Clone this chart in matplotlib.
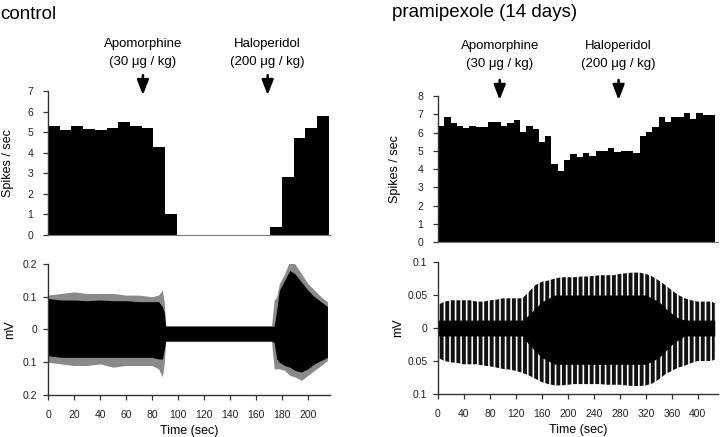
import matplotlib.pyplot as plt
import numpy as np

plt.rcParams['font.family'] = ['Liberation Sans', 'DejaVu Sans']
plt.rcParams['hatch.linewidth'] = 2.8

#Spike rate histograms (spikes / sec per bin)
ctrl_bin_sec = 9.0
ctrl_rate = [5.3, 5.1, 5.3, 5.15, 5.1, 5.2, 5.5, 5.3, 5.2, 4.3, 1.0,
             0, 0, 0, 0, 0, 0, 0, 0,
             0.4, 2.8, 4.7, 5.2, 5.8]

prami_bin_sec = 9.7
prami_rate = [6.35, 6.85, 6.5, 6.35, 6.25, 6.35, 6.3, 6.3, 6.55, 6.55,
              6.35, 6.5, 6.7, 6.05, 6.35, 6.2, 5.5, 5.8, 4.3, 3.9,
              4.5, 4.8, 4.65, 4.85, 4.7, 5.0, 5.0, 5.15, 4.95, 5.0,
              5.0, 4.9, 5.8, 6.05, 6.3, 6.85, 6.55, 6.85, 6.85, 7.05,
              6.75, 7.05, 6.95, 6.95]

#Injection times (sec)
ctrl_apo_t, ctrl_halo_t = 73, 169
prami_apo_t, prami_halo_t = 95, 278

#Control trace envelope (mV)
ctrl_t = [0, 10, 20, 30, 40, 50, 60, 70, 80, 85, 88, 89.5, 90.5, 100, 120, 140,
          160, 172, 174, 176, 178, 182, 186, 190, 195, 200, 205, 210, 215]
ctrl_top = [0.095, 0.09, 0.09, 0.088, 0.09, 0.088, 0.088, 0.085, 0.085, 0.085,
            0.07, 0.05, 0.01, 0.01, 0.01, 0.01, 0.01, 0.01, 0.01, 0.06, 0.12,
            0.15, 0.18, 0.17, 0.145, 0.12, 0.10, 0.085, 0.07]
ctrl_bot = [-0.08, -0.085, -0.085, -0.085, -0.085, -0.085, -0.085, -0.085,
            -0.085, -0.09, -0.09, -0.06, -0.035, -0.035, -0.035, -0.035, -0.035,
            -0.035, -0.04, -0.09, -0.1, -0.11, -0.115, -0.125, -0.13, -0.12,
            -0.105, -0.095, -0.085]
ctrl_top_max = [0.105, 0.11, 0.115, 0.11, 0.11, 0.11, 0.105, 0.105, 0.1, 0.105,
                0.12, 0.08, 0.012, 0.012, 0.012, 0.012, 0.012, 0.012, 0.09, 0.1,
                0.14, 0.17, 0.21, 0.2, 0.17, 0.14, 0.12, 0.1, 0.085]
ctrl_bot_min = [-0.1, -0.105, -0.11, -0.11, -0.105, -0.115, -0.11, -0.11, -0.11,
                -0.12, -0.145, -0.1, -0.037, -0.037, -0.037, -0.037, -0.037,
                -0.037, -0.12, -0.12, -0.12, -0.125, -0.14, -0.145, -0.155,
                -0.14, -0.125, -0.11, -0.095]

#Pramipexole trace envelope (mV): outer spikes and dense core
prami_t = [0, 10, 20, 30, 40, 50, 60, 70, 80, 90, 100, 110, 120, 130, 140, 150,
           160, 170, 180, 190, 200, 210, 220, 230, 240, 250, 260, 270, 280, 290,
           300, 310, 320, 330, 340, 350, 360, 370, 380, 390, 400, 410, 420, 426]
prami_top = [0.035, 0.04, 0.042, 0.042, 0.042, 0.042, 0.04, 0.04, 0.042, 0.043,
             0.045, 0.045, 0.045, 0.045, 0.055, 0.065, 0.07, 0.072, 0.075, 0.077,
             0.077, 0.077, 0.078, 0.078, 0.079, 0.08, 0.08, 0.08, 0.082, 0.083,
             0.084, 0.084, 0.082, 0.078, 0.072, 0.065, 0.057, 0.05, 0.045, 0.042,
             0.04, 0.04, 0.04, 0.038]
prami_bot = [-0.045, -0.05, -0.052, -0.053, -0.055, -0.055, -0.055, -0.057,
             -0.058, -0.06, -0.062, -0.063, -0.065, -0.068, -0.072, -0.077,
             -0.082, -0.085, -0.087, -0.087, -0.086, -0.085, -0.085, -0.085,
             -0.085, -0.085, -0.086, -0.086, -0.086, -0.087, -0.088, -0.088,
             -0.087, -0.084, -0.078, -0.07, -0.065, -0.06, -0.057, -0.053,
             -0.05, -0.05, -0.05, -0.048]
prami_core_top = [0.012, 0.012, 0.012, 0.012, 0.012, 0.012, 0.012, 0.012, 0.012,
                  0.012, 0.012, 0.012, 0.012, 0.012, 0.02, 0.03, 0.04, 0.045,
                  0.05, 0.05, 0.05, 0.05, 0.05, 0.05, 0.05, 0.05, 0.05, 0.05,
                  0.05, 0.05, 0.05, 0.05, 0.05, 0.045, 0.04, 0.03, 0.022, 0.015,
                  0.012, 0.012, 0.012, 0.012, 0.012, 0.012]
prami_core_bot = [-0.012, -0.012, -0.012, -0.012, -0.012, -0.012, -0.012, -0.012,
                  -0.012, -0.012, -0.012, -0.012, -0.012, -0.012, -0.025, -0.035,
                  -0.045, -0.05, -0.055, -0.055, -0.055, -0.055, -0.055, -0.055,
                  -0.055, -0.055, -0.055, -0.055, -0.055, -0.055, -0.055, -0.055,
                  -0.055, -0.05, -0.045, -0.035, -0.025, -0.018, -0.012, -0.012,
                  -0.012, -0.012, -0.012, -0.012]

fig = plt.figure(figsize=(7.2, 4.37), dpi=100)

ax1 = fig.add_axes([0.0667, 0.4622, 0.3917, 0.3295])
ax2 = fig.add_axes([0.0667, 0.0961, 0.3917, 0.2998])
ax3 = fig.add_axes([0.6083, 0.4462, 0.3889, 0.3341])
ax4 = fig.add_axes([0.6083, 0.0984, 0.3889, 0.3020])


def style(ax):
    for s in ['top', 'right']:
        ax.spines[s].set_visible(False)
    for s in ['left', 'bottom']:
        ax.spines[s].set_color('#333333')
        ax.spines[s].set_linewidth(1.0)
    ax.tick_params(colors='#333333', labelcolor='#222222', labelsize=7.5,
                   length=3.5, width=0.9, direction='out')


#Histograms
ctrl_edges = np.arange(len(ctrl_rate)) * ctrl_bin_sec
ax1.bar(ctrl_edges, ctrl_rate, width=ctrl_bin_sec, align='edge', color='black', linewidth=0)
ax1.set_xlim(0, 217)
ax1.set_ylim(0, 7)
ax1.set_yticks(range(0, 8))

prami_edges = np.arange(len(prami_rate)) * prami_bin_sec
ax3.bar(prami_edges, prami_rate, width=prami_bin_sec, align='edge', color='black', linewidth=0)
ax3.set_xlim(0, 431)
ax3.set_ylim(0, 8)
ax3.set_yticks(range(0, 9))

for ax in [ax1, ax3]:
    style(ax)
    ax.set_xticks([])
    ax.spines['bottom'].set_color('#777777')
    ax.spines['bottom'].set_linewidth(0.8)
    ax.tick_params(axis='y', pad=7)
    ax.set_ylabel('Spikes / sec', fontsize=9)
ax1.yaxis.set_label_coords(-0.12, 0.5)
ax3.yaxis.set_label_coords(-0.132, 0.5)

#Traces
ax2.fill_between(ctrl_t, ctrl_bot_min, ctrl_top_max, color='#8a8a8a', linewidth=0)
ax2.fill_between(ctrl_t, ctrl_bot, ctrl_top, color='black', linewidth=0)
ax2.set_xlim(0, 217)
ax2.set_ylim(-0.2, 0.2)
ax2.set_yticks([-0.2, -0.1, 0, 0.1, 0.2])
ax2.set_yticklabels(['0.2', '0.1', '0', '0.1', '0.2'])
ax2.set_xticks(range(0, 201, 20))

ax4.fill_between(prami_t, prami_bot, prami_top, facecolor='white', edgecolor='#111111',
                 hatch='|||', linewidth=0)
ax4.fill_between(prami_t, prami_core_bot, prami_core_top, color='black', linewidth=0)
ax4.set_xlim(0, 431)
ax4.set_ylim(-0.1, 0.1)
ax4.set_yticks([-0.1, -0.05, 0, 0.05, 0.1])
ax4.set_yticklabels(['0.1', '0.05', '0', '0.05', '0.1'])
ax4.set_xticks(range(0, 401, 40))

for ax in [ax2, ax4]:
    style(ax)
    ax.tick_params(axis='x', pad=7)
    ax.tick_params(axis='y', pad=4)
    ax.set_xlabel('Time (sec)', fontsize=9, labelpad=4)
    ax.set_ylabel('mV', fontsize=9)
ax2.yaxis.set_label_coords(-0.113, 0.5)
ax4.yaxis.set_label_coords(-0.121, 0.5)

#Injection arrows and labels
arrow = dict(arrowstyle='-|>,head_length=0.9,head_width=0.35', color='black', lw=1.8,
             shrinkA=0, shrinkB=0)
for ax, t, name, dose, tip, tail, ty in [
        (ax1, ctrl_apo_t, 'Apomorphine', '(30 μg / kg)', 0.972, 1.11, 1.264),
        (ax1, ctrl_halo_t, 'Haloperidol', '(200 μg / kg)', 0.972, 1.11, 1.264),
        (ax3, prami_apo_t, 'Apomorphine', '(30 μg / kg)', 0.973, 1.11, 1.281),
        (ax3, prami_halo_t, 'Haloperidol', '(200 μg / kg)', 0.973, 1.11, 1.281)]:
    ax.annotate('', xy=(t, tip), xycoords=('data', 'axes fraction'),
                xytext=(t, tail), textcoords=('data', 'axes fraction'),
                arrowprops=arrow, annotation_clip=False)
    ax.annotate(name + '\n' + dose, xy=(t, ty), xycoords=('data', 'axes fraction'),
                ha='center', va='center', fontsize=9.5, linespacing=1.6,
                annotation_clip=False)

#Panel titles
fig.text(0.0, 0.9565, 'control', fontsize=13.5, va='baseline')
fig.text(0.545, 0.961, 'pramipexole (14 days)', fontsize=13.5, va='baseline')

plt.savefig('out.png', dpi=100)
